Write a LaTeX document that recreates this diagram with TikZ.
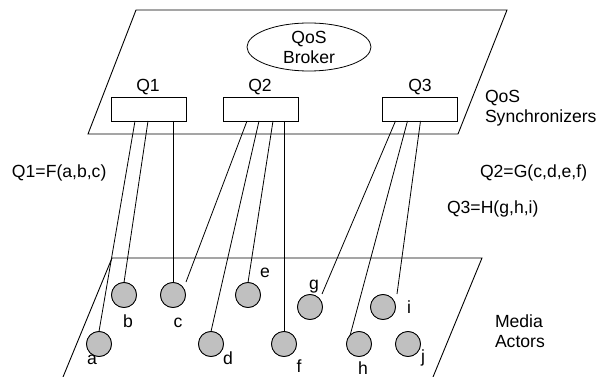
\documentclass[tikz,border=0pt]{standalone}
\usepackage{fontspec}
\setmainfont{Liberation Sans}
\usetikzlibrary{calc,shapes.geometric}
\begin{document}
\begin{tikzpicture}[x=1pt,y=-1pt,
  every node/.style={inner sep=0pt,outer sep=0pt,font=\fontsize{17.6}{20}\selectfont},
  plane/.style={line width=0.9pt},
  link/.style={line width=0.8pt},
  syncbox/.style={draw,line width=0.9pt,minimum width=75pt,minimum height=24pt},
  actor/.style={circle,draw,line width=0.8pt,fill=actorgray,minimum size=25pt},
  lbl/.style={anchor=base},
  side/.style={anchor=west,align=left}]
\definecolor{actorgray}{RGB}{192,192,192}
\useasboundingbox (0,0) rectangle (600,377);

% synchronizer plane
\draw[plane] (136,10) -- (507,10) -- (458,134) -- (88,134) -- cycle;
\node[ellipse,draw,line width=0.8pt,minimum width=124pt,minimum height=48pt,align=center] (broker) at (309,47) {QoS\\Broker};

% synchronizers
\node[syncbox] (q1) at (148.5,109) {};
\node[syncbox] (q2) at (260.5,109) {};
\node[syncbox] (q3) at (420,109) {};
\node (q1l) at (148,87) {Q1};
\node (q2l) at (260,87) {Q2};
\node (q3l) at (420,87) {Q3};
\node[side] (synlbl) at (485,108) {QoS\\Synchronizers};

% relations
\node[side] (f1) at (12,173) {Q1=F(a,b,c)};
\node[side] (f2) at (480,173) {Q2=G(c,d,e,f)};
\node[side] (f3) at (447,209) {Q3=H(g,h,i)};

% actor plane
\draw[plane] (63,377) -- (112,258) -- (482,258) -- (433,377);
\node[side] (medlbl) at (495,331) {Media\\Actors};

% actor positions
\coordinate (pa) at (99,344);
\coordinate (pb) at (124,295);
\coordinate (pc) at (173,295);
\coordinate (pd) at (211,344);
\coordinate (pe) at (248,295);
\coordinate (pf) at (284,344);
\coordinate (pg) at (310,307);
\coordinate (ph) at (359,344);
\coordinate (pi) at (383,307);
\coordinate (pj) at (408,344);

\path (pa) node[actor] (a) {} (pb) node[actor] (b) {} (pc) node[actor] (c) {}
      (pd) node[actor] (d) {} (pe) node[actor] (e) {} (pf) node[actor] (f) {}
      (pg) node[actor] (g) {} (ph) node[actor] (h) {} (pi) node[actor] (i) {}
      (pj) node[actor] (j) {};

% links from synchronizers to actors
\draw[link] ([xshift=24pt]q1.south west) -- (a.north);
\draw[link] ([xshift=37pt]q1.south west) -- (b.north);
\draw[link] ([xshift=62pt]q1.south west) -- (c.north);
\draw[link] ([xshift=24pt]q2.south west) -- ($(c.center)+(13,-13)$);
\draw[link] ([xshift=36pt]q2.south west) -- (d.north);
\draw[link] ([xshift=50pt]q2.south west) -- (e.north);
\draw[link] ([xshift=61pt]q2.south west) -- (f.north);
\draw[link] ([xshift=13pt]q3.south west) -- ($(g.center)+(12,-13)$);
\draw[link] ([xshift=25pt]q3.south west) -- (h.135);
\draw[link] ([xshift=38pt]q3.south west) -- ($(i.center)+(14,-13)$);

% redraw actors over link ends
\path (pa) node[actor] {} (pb) node[actor] {} (pc) node[actor] {}
      (pd) node[actor] {} (pe) node[actor] {} (pf) node[actor] {}
      (pg) node[actor] {} (ph) node[actor] {} (pi) node[actor] {}
      (pj) node[actor] {};

% actor labels
\node[lbl] (la) at (92,364) {a};
\node[lbl] (lb) at (128,327) {b};
\node[lbl] (lc) at (178,327) {c};
\node[lbl] (ld) at (228,364) {d};
\node[lbl] (le) at (265,277) {e};
\node[lbl] (lf) at (299,372) {f};
\node[lbl] (lg) at (314,289) {g};
\node[lbl] (lh) at (363,374) {h};
\node[lbl] (li) at (409,313) {i};
\node[lbl] (lj) at (423,362) {j};
\end{tikzpicture}
\end{document}
